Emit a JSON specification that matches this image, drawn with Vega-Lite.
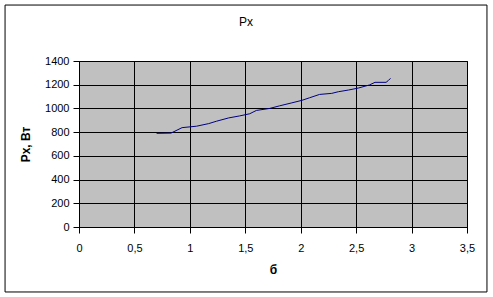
{
  "$schema": "https://vega.github.io/schema/vega-lite/v6.json",
  "autosize": "none",
  "width": 388,
  "height": 166,
  "padding": {"left": 79, "top": 61, "right": 26, "bottom": 70},
  "background": "white",
  "title": {"text": "Px", "fontSize": 12, "font": "Liberation Sans", "fontWeight": "normal", "color": "black", "offset": -24, "dx": -27},
  "config": {
    "view": {"fill": "#C0C0C0", "stroke": "#000000", "strokeWidth": 1},
    "axis": {
      "domainColor": "black", "tickColor": "black", "grid": true, "gridColor": "black", "gridOpacity": 1, "gridWidth": 1,
      "labelColor": "black", "labelFont": "Liberation Sans", "labelFontSize": 11, "labelOverlap": false, "labelFlush": false,
      "titleFont": "Liberation Sans", "titleFontSize": 12, "titleFontWeight": "bold", "titleColor": "black",
      "tickSize": 6
    }
  },
  "datasets": {
    "px": [
      {"b": 0.70, "p": 790}, {"b": 0.83, "p": 792}, {"b": 0.93, "p": 838}, {"b": 1.06, "p": 850},
      {"b": 1.17, "p": 872}, {"b": 1.24, "p": 892}, {"b": 1.35, "p": 920}, {"b": 1.45, "p": 937},
      {"b": 1.54, "p": 955}, {"b": 1.60, "p": 983}, {"b": 1.72, "p": 1000}, {"b": 1.81, "p": 1022},
      {"b": 1.92, "p": 1047}, {"b": 2.01, "p": 1068}, {"b": 2.08, "p": 1090}, {"b": 2.17, "p": 1118},
      {"b": 2.28, "p": 1127}, {"b": 2.34, "p": 1141}, {"b": 2.43, "p": 1155}, {"b": 2.52, "p": 1172},
      {"b": 2.62, "p": 1198}, {"b": 2.67, "p": 1220}, {"b": 2.77, "p": 1220}, {"b": 2.79, "p": 1235},
      {"b": 2.81, "p": 1254}
    ],
    "frame": [{"k": 1}]
  },
  "layer": [
    {
      "data": {"name": "px"},
      "mark": {"type": "line", "color": "#000080", "strokeWidth": 1},
      "encoding": {
        "x": {"field": "b", "type": "quantitative", "scale": {"domain": [0, 3.5], "nice": false, "zero": false},
          "axis": {"title": "б", "grid": true, "values": [0, 0.5, 1, 1.5, 2, 2.5, 3, 3.5], "format": "~g", "labelExpr": "replace(datum.label, '.', ',')", "labelPadding": 9, "titlePadding": 11}},
        "y": {"field": "p", "type": "quantitative", "scale": {"domain": [0, 1400], "nice": false, "zero": false},
          "axis": {"title": "Px, Вт", "grid": true, "format": "d", "values": [0, 200, 400, 600, 800, 1000, 1200, 1400], "labelPadding": 4, "titlePadding": 12}}
      }
    },
    {
      "data": {"name": "frame"},
      "mark": {"type": "rect", "fill": "transparent", "stroke": "black", "strokeWidth": 1, "clip": false},
      "encoding": {
        "x": {"datum": -0.667, "type": "quantitative", "scale": {"domain": [0, 3.5], "nice": false, "zero": false},
          "axis": {"title": "б", "grid": true, "values": [0, 0.5, 1, 1.5, 2, 2.5, 3, 3.5], "format": "~g", "labelExpr": "replace(datum.label, '.', ',')", "labelPadding": 9, "titlePadding": 11}},
        "x2": {"datum": 3.68},
        "y": {"datum": 1872, "type": "quantitative", "scale": {"domain": [0, 1400], "nice": false, "zero": false},
          "axis": {"title": "Px, Вт", "grid": true, "format": "d", "values": [0, 200, 400, 600, 800, 1000, 1200, 1400], "labelPadding": 4, "titlePadding": 12}},
        "y2": {"datum": -548}
      }
    }
  ]
}
